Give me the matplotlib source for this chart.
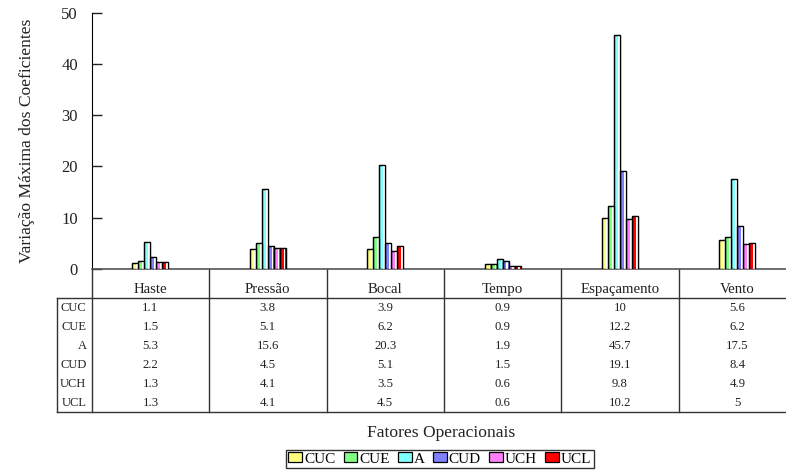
#!/usr/bin/env python

import numpy
import matplotlib
matplotlib.use('Agg')
import matplotlib.pyplot as plt
from matplotlib.patches import Patch

plt.rcParams['font.family'] = ['Liberation Serif', 'DejaVu Serif']

fatores = ['Haste', 'Pressão', 'Bocal', 'Tempo', 'Espaçamento', 'Vento']
series = ['CUC', 'CUE', 'A', 'CUD', 'UCH', 'UCL']
cuc = [1.1, 3.8, 3.9, 0.9, 10, 5.6]
cue = [1.5, 5.1, 6.2, 0.9, 12.2, 6.2]
a = [5.3, 15.6, 20.3, 1.9, 45.7, 17.5]
cud = [2.2, 4.5, 5.1, 1.5, 19.1, 8.4]
uch = [1.3, 4.1, 3.5, 0.6, 9.8, 4.9]
ucl = [1.3, 4.1, 4.5, 0.6, 10.2, 5]
values = [cuc, cue, a, cud, uch, ucl]
# text as printed in the data table
labels = [['1.1', '3.8', '3.9', '0.9', '10', '5.6'],
          ['1.5', '5.1', '6.2', '0.9', '12.2', '6.2'],
          ['5.3', '15.6', '20.3', '1.9', '45.7', '17.5'],
          ['2.2', '4.5', '5.1', '1.5', '19.1', '8.4'],
          ['1.3', '4.1', '3.5', '0.6', '9.8', '4.9'],
          ['1.3', '4.1', '4.5', '0.6', '10.2', '5']]
colors = ['#FFFF80', '#80FF80', '#80FFFF', '#8080FF', '#FF80FF', '#FF0000']

W, H = 786, 470
x0, y0, ytop, colw = 91.7, 268.7, 12.7, 117.4

fig = plt.figure(figsize=(W/100.0, H/100.0), dpi=100)
ax = fig.add_axes([x0/W, (H-y0)/H, 6*colw/W, (y0-ytop)/H])

x = numpy.arange(len(fatores))
bw = 0.051
for i, (vals, col) in enumerate(zip(values, colors)):
    pos = x + (i - 2.5)*bw
    ax.bar(pos, vals, bw, color=col, edgecolor='black', linewidth=0.9, zorder=3)
    # light stripe on the right side of each bar
    ax.bar(pos + 0.3*bw, vals, 0.3*bw, color='white', linewidth=0, zorder=4)
    ax.bar(pos, vals, bw, fill=False, edgecolor='black', linewidth=0.9, zorder=5)

ax.set_xlim(-0.5, 5.5)
ax.set_ylim(0, 50)
ax.set_yticks([0, 10, 20, 30, 40, 50])
ax.set_xticks([])
ax.tick_params(axis='y', direction='in', length=7, width=1, pad=10,
               labelsize=12, colors='#222222')
for s in ('top', 'right'):
    ax.spines[s].set_visible(False)
ax.spines['left'].set_color('black')
ax.spines['bottom'].set_color('#555555')
ax.spines['bottom'].set_linewidth(1.2)

ax.set_ylabel('Variação Máxima dos Coeficientes', fontsize=12.6, labelpad=19,
              color='#222222')

# data table below the axis
tr = ax.get_xaxis_transform()
def ay(ypx):
    return (y0 - ypx)/(y0 - ytop)
def dx(xpx):
    return -0.5 + (xpx - x0)/colw

hdr_bot, tbl_bot, rowh = 298.3, 412.3, 19.0
lc = '#333333'
kw = dict(transform=tr, clip_on=False, color=lc, linewidth=1.0)
ax.plot([dx(57), 5.6], [ay(hdr_bot)]*2, **kw)
ax.plot([dx(57), 5.6], [ay(tbl_bot)]*2, **kw)
ax.plot([dx(57)]*2, [ay(hdr_bot), ay(tbl_bot)], **kw)
for k in range(6):
    ax.plot([k - 0.5]*2, [ay(y0), ay(tbl_bot)], **kw)

for k, nome in enumerate(fatores):
    ax.text(k, ay(289.5), nome, transform=tr, ha='center', va='center',
            fontsize=10.7, color='#222222')
for r, s in enumerate(series):
    yc = ay(hdr_bot + rowh*(r + 0.5))
    ax.text(dx(86.5), yc, s, transform=tr, ha='right', va='center',
            fontsize=9, color='#222222')
    for k in range(len(fatores)):
        ax.text(k, yc, labels[r][k], transform=tr, ha='center', va='center',
                fontsize=9.2, color='#222222')

fig.text(441/W, 1 - 433/H, 'Fatores Operacionais', ha='center', va='center',
         fontsize=12.6, color='#222222')

handles = [Patch(facecolor=c, edgecolor='black', linewidth=0.9) for c in colors]
leg = fig.legend(handles, series, loc='center', bbox_to_anchor=(440/W, 1 - 459/H),
                 ncol=6, fontsize=11, frameon=True, fancybox=False,
                 handlelength=0.9, handleheight=0.55, handletextpad=0.12,
                 columnspacing=0.55, borderpad=0.15, borderaxespad=0)
leg.get_frame().set_edgecolor('black')
leg.get_frame().set_linewidth(1.0)

fig.savefig('out.png', dpi=100)
